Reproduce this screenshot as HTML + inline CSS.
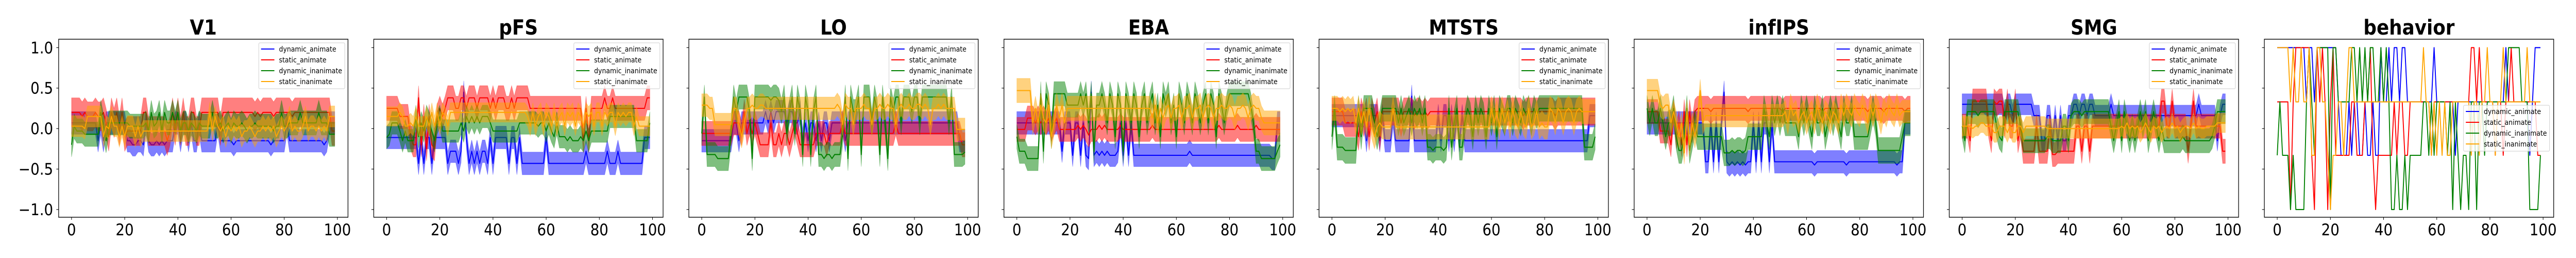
<!DOCTYPE html>
<html><head><meta charset="utf-8">
<style>
html,body{margin:0;padding:0;background:#fff;width:100vw;height:100vh;overflow:hidden;}
svg{display:block;position:fixed;left:0;top:0;width:100vw;height:100vh;}
text{font-family:"DejaVu Sans","Liberation Sans",sans-serif;}
</style></head>
<body>
<svg id="fig" viewBox="0 0 5600 500" preserveAspectRatio="none" xmlns="http://www.w3.org/2000/svg"></svg>
<script>
const panelTitles = ["V1","pFS","LO","EBA","MTSTS","infIPS","SMG","behavior"];
const seriesNames = ["dynamic_animate","static_animate","dynamic_inanimate","static_inanimate"];
const seriesColors = ["#0000ff","#ff0000","#008000","#ffa500"];
const xTicks = [0,20,40,60,80,100];
const yTicks = [1.0,0.5,0.0,-0.5,-1.0];
const yTickLabels = ["1.0","0.5","0.0","\u22120.5","\u22121.0"];

const V1_da=[.07,.07,.07,.07,.07,.07,.07,.07,.07,.07,-.15,.07,-.15,.07,.07,.07,.07,.07,.07,.07,.07,-.15,-.15,-.2,-.2,-.15,-.15,-.2,.07,-.15,-.2,-.2,-.15,-.2,-.15,-.2,-.15,-.15,-.15,.07,.07,-.15,.07,.07,-.15,.07,-.15,-.15,.07,-.15,-.15,-.15,-.15,-.15,-.15,.07,-.15,-.15,-.15,-.15,-.15,-.2,-.15,-.15,-.15,-.15,-.15,-.15,-.15,-.15,-.15,-.15,-.15,-.15,-.15,-.2,-.15,-.15,-.15,-.15,-.15,.07,-.15,-.15,-.15,-.15,-.15,-.15,-.15,-.15,-.15,-.15,-.15,-.15,-.15,-.2,-.15,.07,.07,.07];
const V1_sa=[.2,.2,.2,.2,.15,.2,.15,.15,.15,.2,.15,.15,.2,.07,-.1,.2,.07,.2,-.03,.2,-.1,-.03,-.03,-.03,-.03,-.03,-.03,.2,.2,-.03,-.03,-.03,-.03,-.03,-.03,-.03,-.15,-.03,.2,-.03,.2,-.03,.2,-.03,-.03,.2,.2,-.03,-.03,.2,.2,.2,.2,.2,.2,.2,-.03,.2,.2,.2,.2,.2,.2,.2,.2,.2,.2,.2,.2,.15,.2,.15,.2,.2,.2,.2,.15,.2,.2,.2,.2,.2,.2,.15,.2,.2,.2,.2,.2,.2,.2,.2,.2,.2,.2,.2,.2,.2,-.03,-.03];
const V1_di=[-.2,.03,-.03,-.03,-.03,-.07,-.07,-.07,-.07,-.07,-.07,.2,.03,-.15,.07,.07,.07,.07,.07,.07,.07,.07,.03,.03,.03,.03,.03,.03,.07,-.03,.2,.03,.07,.2,-.03,.2,.07,.07,.2,.07,.2,-.03,.07,.07,-.03,.07,.03,-.03,.07,.03,.03,.03,.03,.2,.03,.03,.07,-.03,.03,.07,-.03,.07,.03,.03,.07,.03,-.03,.03,.03,.07,.03,.03,.03,.03,.03,.03,-.03,.03,.03,.2,.03,.03,.07,.07,.07,.07,.2,.07,.07,.07,.07,.07,.07,.2,.07,.07,.07,-.07,-.07,-.07];
const V1_si=[.03,.03,.03,.03,.03,0,.15,.15,.15,.15,.15,.15,-.1,.03,0,.15,.03,.03,-.1,.03,-.1,.03,.03,.03,-.1,.03,-.1,-.03,-.03,-.03,-.03,-.03,-.03,-.03,-.03,-.03,-.03,-.03,-.03,-.03,-.03,-.03,-.03,-.03,-.03,-.03,-.03,-.03,-.03,-.03,-.03,-.03,.2,-.03,.15,.03,-.03,.03,-.1,.03,-.03,.03,-.03,.03,-.1,-.03,-.03,.03,-.03,-.1,-.03,-.03,.03,-.03,.03,-.03,.03,-.1,-.03,.03,-.03,.03,.15,-.03,.03,-.03,-.03,.03,.15,-.03,.03,.03,-.03,.03,-.03,.03,-.03,.15,.15,.15];

const pFS_da=[-.11,-.11,-.11,-.11,-.11,-.11,-.11,-.11,-.11,-.11,-.11,-.11,-.43,-.11,-.43,-.11,-.11,-.43,-.11,-.11,-.11,-.11,-.11,-.43,-.28,-.28,-.28,-.43,-.28,.45,-.11,-.43,-.28,-.43,-.28,-.43,-.28,-.28,-.43,-.11,-.43,-.11,-.11,-.11,-.11,-.11,-.43,-.11,-.11,-.43,-.11,-.43,-.43,-.43,-.43,-.43,-.43,-.43,-.43,-.43,-.11,-.43,-.43,-.43,-.43,-.43,-.43,-.43,-.43,-.43,-.43,-.43,-.43,-.43,-.43,-.28,-.43,-.43,-.43,-.43,-.43,-.43,-.43,-.28,-.43,-.43,-.43,-.28,-.43,-.43,-.43,-.43,-.43,-.43,-.43,-.43,-.43,-.11,-.11,-.11];
const pFS_sa=[.25,.25,.25,.25,.25,.15,.15,.15,.15,-.1,-.2,-.2,.38,-.2,.15,-.25,.15,-.2,-.25,.15,.25,.15,.25,.38,.38,.38,.25,.25,.38,.38,.25,.38,.38,.38,.25,.38,.38,.38,.38,.25,.38,.25,.38,.38,.38,.25,.25,.38,.25,.38,.38,.38,.38,.38,.25,.25,.25,.25,.25,.25,.25,.25,.25,.25,.25,.25,.25,.25,.25,.25,.25,.25,.25,.25,-.15,.25,-.15,.25,.25,.25,.25,.25,.38,.25,.25,.38,.25,.25,.25,.25,.25,.25,.25,.25,.25,.25,.25,.25,.38,.38];
const pFS_di=[-.11,-.07,.07,.07,.07,-.03,-.15,-.03,-.15,-.15,-.15,.15,-.1,.07,-.03,.15,.07,-.03,-.15,.07,.15,-.03,-.03,-.03,-.03,-.03,-.03,-.03,.07,-.03,.15,.07,.15,.07,.15,.07,.15,.15,.15,.07,-.03,-.03,-.03,-.03,-.03,-.03,-.03,-.03,-.03,-.03,.07,.07,.07,.07,.07,.07,.07,.03,.07,.07,-.03,.07,-.03,-.1,.07,-.1,-.1,-.1,-.15,-.1,-.15,-.15,-.15,-.1,-.15,-.03,-.15,-.03,-.03,-.03,-.03,-.03,-.03,-.03,.15,.15,.15,.15,.15,.15,.15,.15,.15,.15,-.15,-.15,-.15,-.15,-.15,.07];
const pFS_si=[.15,.15,.15,.15,.15,.2,.15,.03,.03,.07,.03,.15,.03,.03,.03,.15,.03,.2,.03,.2,.03,.2,.15,.03,.2,.2,.2,.2,.2,.2,.2,.2,.2,.2,.2,.2,.2,.2,.2,.2,.2,.2,.2,.2,.2,.2,.2,.2,.2,.2,.2,.2,.2,.15,.03,.2,.03,.15,.2,.03,.2,.15,.03,.2,.03,.15,.2,.03,.2,.15,.2,.03,.2,.15,.03,.2,.15,.2,.03,.2,.2,.03,.2,.15,.2,.2,.03,.2,.15,.2,.15,.2,.2,.03,.15,.03,.03,.03,.03,.03];

const LO_da=[-.15,-.15,-.15,-.15,-.15,-.15,-.15,-.15,-.15,-.15,-.15,-.15,.07,.07,-.15,.07,.07,.07,.07,.07,.07,.07,.07,.07,.21,.07,.21,.07,.21,.21,.21,.21,.07,.21,.21,.07,.07,.21,-.15,.07,-.15,.07,.07,-.15,.07,-.15,.07,.07,-.15,.07,.07,.07,.07,.07,-.15,.07,.07,.07,.07,.07,.07,.07,.07,.07,.07,.07,.07,.07,.07,.07,.07,.07,.07,.07,.07,.07,.07,.07,.07,.07,.07,.07,.07,.07,.07,.07,.07,.07,.07,.07,.07,.07,.07,.07,.07,.07,.07,-.15,-.15,-.15];
const LO_sa=[-.06,-.06,-.06,-.06,-.06,-.06,-.06,-.06,-.06,-.06,-.06,-.06,.07,.07,.07,-.06,.21,-.06,.07,-.06,.07,-.06,-.2,-.2,-.2,-.2,.07,-.2,-.2,-.06,-.2,-.06,-.06,-.2,-.06,.07,-.06,-.2,-.2,-.2,-.2,-.2,-.2,-.06,-.06,-.06,-.06,-.2,-.06,-.06,-.06,-.06,-.06,.07,-.06,-.06,-.06,-.06,-.06,-.06,-.06,-.06,-.06,-.06,-.06,-.06,-.06,-.06,-.06,-.06,-.06,-.06,-.06,.07,-.06,-.06,-.06,-.06,-.06,-.06,-.06,-.06,-.06,-.06,-.06,-.06,-.06,-.06,-.06,-.06,-.06,-.06,-.06,-.06,-.06,-.06,-.06,-.06,-.2,-.2];
const LO_di=[-.06,.39,-.32,-.32,-.32,-.32,-.37,-.37,-.37,-.37,-.37,-.06,.39,.21,.39,.39,.39,.39,.21,-.37,.39,.39,.39,.39,.39,.39,.35,.39,.39,.35,.21,.39,-.06,.21,.39,-.06,.39,.21,-.32,.39,.21,-.32,.21,.39,-.32,-.32,-.37,-.32,-.32,-.37,-.32,-.32,-.32,-.06,.39,-.37,.39,.21,.21,.39,-.32,.39,.39,.39,.07,.39,.21,-.32,.39,.07,-.37,.39,.21,.39,.39,.07,.39,.39,.39,.21,.39,.39,.07,.39,.39,.39,.39,.39,.39,.39,.39,.39,.39,.07,.39,-.32,-.32,-.32,-.32,-.29];
const LO_si=[.29,.29,.29,.25,.25,.05,.05,.05,.05,.05,.05,.05,.25,.25,.05,-.1,.07,.25,.25,.29,.25,.25,.29,.29,.25,.25,.25,.25,.25,.25,.25,.25,.25,.25,.25,.25,.25,.25,.25,.25,.25,.25,.25,.25,.25,.25,.25,.25,.25,.25,.25,.3,.25,.05,.3,.25,.25,.05,.25,.25,.25,.3,.25,.25,.05,.25,.25,.3,.25,.25,.3,.25,.25,.05,.25,.3,.25,.25,.3,.25,.25,.3,.3,.25,.3,.25,.05,.25,.25,.3,.25,.3,.25,.25,.25,.25,-.01,-.01,-.01,-.01];

const EBA_da=[.07,.07,.07,.07,.07,.07,.07,.07,.07,.07,.07,.07,.07,.07,.07,.07,.07,-.28,.07,.07,.07,-.33,.07,.07,-.33,.07,-.33,-.37,.45,-.33,-.28,-.33,-.28,-.33,-.28,-.33,-.33,-.33,-.28,.07,-.33,.07,-.33,.07,-.33,-.33,-.33,-.33,-.33,-.33,-.33,-.33,-.33,-.33,-.33,-.33,-.33,-.33,-.33,-.33,-.33,-.33,-.33,-.33,-.33,-.28,-.33,-.33,-.33,-.33,-.33,-.33,-.33,-.33,-.33,-.33,-.33,-.33,-.33,-.33,-.33,-.33,-.33,-.33,-.33,-.33,-.33,-.33,-.33,-.33,-.33,-.33,-.33,-.33,-.33,-.33,-.37,-.37,.07,.07];
const EBA_sa=[-.01,-.01,-.01,-.01,.13,.13,.13,.07,.13,.07,.13,.07,.13,-.01,.07,.13,-.01,-.01,-.01,-.01,-.01,-.01,-.01,.04,-.01,.04,-.01,-.08,-.01,-.01,-.01,.04,-.01,.04,-.01,-.01,-.01,-.01,-.01,.04,-.01,-.01,-.01,-.01,-.01,-.01,-.01,-.01,-.01,-.01,-.01,.04,-.01,-.01,-.01,-.01,-.01,-.01,-.01,-.01,-.01,-.01,-.01,-.01,-.01,-.01,-.01,-.01,-.01,-.01,-.01,-.01,-.01,-.01,-.01,-.01,.04,-.01,-.01,-.01,-.01,-.01,-.01,.04,-.01,-.01,-.01,-.01,-.01,-.01,.04,-.01,-.01,-.01,-.01,-.01,-.01,-.01,-.01,-.01];
const EBA_di=[-.1,-.28,-.28,-.28,-.37,-.37,-.37,-.37,-.37,.43,-.28,.43,.29,-.1,.43,.43,.43,.43,.43,.29,.29,.29,.29,.29,.43,.29,.43,.07,.43,-.28,.29,.29,.43,.29,.07,.43,.29,-.1,.43,.29,-.28,.43,.29,.07,.43,.29,-.1,.29,.43,.07,.29,.43,.07,.29,-.1,.43,.29,.43,.07,.29,-.1,.43,.29,.07,.43,.29,.07,.43,.29,.07,.29,.43,.07,.43,.29,-.1,.43,.29,.07,.29,.43,.43,.43,.43,.43,.43,.43,.43,.29,.07,-.28,-.28,-.37,-.37,-.37,-.37,-.37,-.37,-.28,-.2];
const EBA_si=[.47,.47,.47,.47,.47,.47,.07,.25,.07,.29,.13,.07,.29,-.1,.07,.29,.13,.29,.07,.25,.25,.25,.25,.25,.25,.25,.25,.25,.25,.25,.25,.25,.25,.25,.25,.25,.25,.25,.25,.25,.25,.25,.25,.25,.25,.25,.25,.25,.25,.25,.25,.13,.29,.07,.25,.13,.25,.29,.13,.25,.25,.29,.13,.25,.25,.29,.13,.25,.25,.29,.13,.25,.29,.25,.13,.25,.25,.29,.25,.25,.29,.25,.13,.25,.25,.29,.25,.13,.25,.29,.25,.25,.13,.07,.07,.07,.07,.07,.07,.07];

const MTSTS_da=[.16,.16,.16,.16,.16,.16,.16,.16,.16,.16,.16,.16,.16,-.15,.16,.16,.16,.16,-.15,.16,-.15,-.15,-.15,.16,-.15,-.15,-.15,-.15,-.15,-.15,.4,-.15,-.15,-.15,-.15,-.15,-.15,-.15,-.15,-.15,.16,-.15,.16,.16,-.15,.16,-.15,.16,-.15,.16,-.15,-.15,-.15,-.15,-.15,-.15,-.15,-.15,-.15,-.15,-.15,-.15,-.15,-.15,-.15,-.15,-.15,-.15,-.15,-.15,-.15,-.15,-.15,-.15,-.15,-.15,-.15,-.15,-.15,-.15,-.15,-.15,-.15,-.15,-.15,-.15,-.15,-.15,-.15,-.15,-.15,-.15,-.15,-.15,-.15,-.15,-.15,.16,.16,.16];
const MTSTS_sa=[.21,.21,.21,.21,.21,.07,.07,.07,.07,.07,-.1,.21,.07,.21,-.1,.21,.07,.21,-.1,.21,.21,.21,.21,.21,.21,.21,.07,.21,.21,.21,.21,.16,.21,.21,.16,.21,.16,.21,.21,.21,.21,.21,.21,.21,.21,.21,.21,.21,.21,.21,.21,.21,.21,.21,.21,.21,.21,.21,.21,.21,.21,.21,.21,.21,.21,.21,.21,.21,.21,.21,.21,.21,.16,.21,.21,.21,.21,.21,.21,.21,.21,.21,.21,.21,.16,.21,.21,.21,.21,.21,.21,.21,.21,.21,.21,.21,.21,.21,.21,.21];
const MTSTS_di=[-.1,.25,-.23,-.23,-.23,-.27,-.27,-.27,-.27,-.27,.25,-.1,.25,.25,.25,.25,.07,-.1,.07,.25,.25,.25,.25,.25,.25,.07,.25,.07,.16,.25,.07,.25,.16,.25,.07,.25,-.23,-.23,-.27,-.23,-.23,-.23,-.27,-.23,.25,-.23,.07,.25,-.23,-.23,.07,.25,.16,-.1,.25,.07,.25,.16,-.1,.25,.07,.25,-.1,.25,.16,.07,.25,.25,.07,.25,.16,.07,.25,.16,.25,.07,.25,.16,.25,.25,.25,.25,.25,.25,.25,.25,.25,.25,.25,.25,.25,.25,.25,.25,.25,-.23,-.23,-.23,-.23,-.1];
const MTSTS_si=[.25,.25,.25,.21,.25,.21,.25,.21,.25,.07,.25,.07,.21,.02,.25,.02,-.1,.02,.07,.02,.02,.02,.02,.25,.02,.02,.02,.02,.02,.02,.02,.02,.02,.02,.02,.02,.02,.02,.02,.02,.02,.02,.02,.02,.02,.02,.02,.02,.02,.02,.02,.02,.02,.02,.02,.02,.02,.02,.02,.02,.25,.07,.21,.02,.25,.07,.21,.02,.25,.07,.02,.21,.07,.02,.25,.02,.07,.21,.02,.07,.02,.02,.25,.21,.07,.25,.21,.07,.21,.25,.21,.07,.21,.25,.21,.21,.21,.21,.21,.21];

const infIPS_da=[.07,.07,.07,.07,.07,.07,.07,.07,.07,.07,.07,.07,.07,.07,.07,.07,.07,.07,.07,.07,.07,.07,-.41,-.41,.07,-.41,.07,-.41,.07,.45,-.41,-.45,-.41,-.45,-.41,-.45,-.41,-.45,-.41,-.41,.07,-.41,.07,-.41,.07,.07,-.41,.07,-.41,-.41,-.41,-.41,-.41,-.41,-.41,-.41,-.41,-.41,-.41,-.41,-.41,-.41,-.41,-.45,-.41,-.41,-.41,-.41,-.41,-.41,-.41,-.41,-.41,-.41,-.41,-.45,-.41,-.41,-.41,-.41,-.41,-.41,-.41,-.41,-.41,-.41,-.41,-.41,-.41,-.41,-.41,-.41,-.41,-.41,-.45,-.41,-.41,.07,.07,.07];
const infIPS_sa=[.21,.21,.21,.21,.21,-.03,-.03,-.03,-.03,-.2,.21,-.1,.07,-.2,.21,-.2,.21,-.03,.21,.25,.25,.25,.25,.25,.21,.25,.25,.25,.25,.25,.25,.25,.25,.25,.25,.25,.25,.25,.21,.25,.25,.25,.25,.25,.25,.25,.25,.25,.25,.25,.25,.21,.25,.25,.25,.25,.25,.25,.25,.25,.25,.25,.25,.25,.25,.25,.21,.25,.25,.25,.25,.25,.25,.25,.25,.25,.25,.25,.25,.25,.25,.25,.25,.21,.25,.25,.25,.25,.25,.21,.25,.25,.25,.25,.25,.25,.25,.21,.25,.25];
const infIPS_di=[.25,.07,.25,.07,.07,.25,.07,-.1,.07,.07,.25,-.1,-.27,-.27,-.1,.25,-.27,-.1,.07,-.1,-.1,-.1,-.1,-.1,-.1,-.1,-.1,-.1,-.1,-.3,-.3,-.3,-.27,-.3,-.27,-.27,-.3,-.27,-.1,-.1,-.1,-.1,-.1,-.1,.25,.07,-.1,.25,.07,.25,.07,.25,.07,.07,.07,.07,.07,-.1,.25,.07,.25,.07,-.1,.25,.07,.07,.25,-.1,.07,.25,.07,.25,.07,-.1,.25,.07,.07,.25,-.1,-.1,-.1,-.1,-.1,-.1,.07,.25,.07,-.27,-.27,-.27,-.27,-.27,-.27,-.27,-.27,-.27,-.1,.07,.07,.07];
const infIPS_si=[.47,.47,.47,.47,.47,.29,.25,.29,.29,.07,.21,.07,-.1,.07,-.3,.21,-.2,.07,-.1,.07,.47,.07,.16,.16,.16,.16,.16,.16,.16,.16,.16,.16,.16,.16,.16,.16,.16,.16,.16,.16,.16,.16,.16,.16,.16,.16,.16,.16,.16,.16,.16,.16,.21,.07,.29,.16,.21,.07,.16,.21,.07,.16,.21,.07,.29,.16,.07,.21,.16,.07,.21,.16,.07,.29,.16,.29,.21,.16,.29,.21,.16,.29,.21,.07,.29,.16,.29,.21,.07,.25,.16,.29,.21,.16,.29,.16,.21,.21,.21,.21];

const SMG_da=[.3,.3,.3,.3,.3,.3,.3,.3,.3,.3,.3,.3,.3,.3,.3,.3,.16,.3,.3,.16,.3,.3,.3,.3,.3,.3,.3,.16,.16,.16,-.15,-.15,.16,.16,-.15,.16,-.15,.16,-.15,-.15,.16,.16,.3,.3,.16,.3,.3,.16,.3,.3,.16,.16,.16,.16,.16,.16,.3,.16,.16,.16,.16,.16,.16,.16,.16,.16,.16,.16,.16,.16,.16,.16,.16,.16,.16,.16,.16,.16,.16,.16,.16,.16,.16,.16,.16,.16,.16,.16,.16,.3,.16,.16,.16,.16,.16,.16,-.15,.16,.3,.3];
const SMG_sa=[.03,.03,.03,-.15,.34,.34,.34,.34,.34,.34,.03,-.15,.34,.3,.34,.34,.03,.34,.03,.03,.34,-.15,.03,-.28,-.28,-.28,-.28,-.28,.03,-.28,-.28,-.28,-.28,.03,-.32,-.32,-.28,-.28,-.28,-.28,-.28,-.28,-.28,.03,.03,-.28,.03,.03,-.28,.03,.03,.03,.03,.03,.03,.03,.03,.03,.03,.03,.03,.03,.03,.03,.03,.03,.03,.03,.03,.03,.03,.03,.03,.03,.03,.34,.34,.03,.03,.34,.03,.03,.03,.03,.03,-.28,.03,.34,.03,.03,.03,.03,.03,.03,.03,.03,.03,.03,-.28,-.28];
const SMG_di=[.03,-.15,.21,.21,.21,.21,.16,.21,.21,.21,.21,.21,.21,.03,-.1,-.15,.21,.21,.21,.21,.21,.21,.03,-.15,-.15,-.15,-.15,-.15,-.15,-.15,-.15,-.15,-.1,-.1,-.15,-.15,-.15,-.15,.03,.03,-.15,.16,.21,.21,.21,.16,.21,.21,.21,.21,.21,.21,.21,.21,.21,.21,.03,-.15,.03,.21,-.15,.21,.03,-.15,.03,-.15,.03,.21,.03,.21,-.15,.03,.21,.03,-.15,.03,-.15,-.15,-.15,-.15,-.15,-.15,-.15,-.1,-.15,-.15,-.15,-.15,-.15,-.15,-.15,-.15,-.15,-.15,-.1,.03,.21,.21,.21,.21];
const SMG_si=[.03,.03,.03,.03,0,.03,.03,.07,.07,.03,.03,.03,-.05,-.05,.03,.03,.03,-.05,.03,-.05,-.05,.03,.03,-.05,.03,.03,.03,.03,.03,.03,.03,.03,0,0,0,0,0,0,0,0,0,0,0,0,0,0,0,0,0,0,0,0,0,0,0,0,0,0,0,0,.03,0,.07,0,.03,0,.03,-.05,0,.07,0,-.05,.03,0,.03,-.05,0,.03,0,.07,0,.03,-.05,0,.03,.03,0,.07,0,.03,0,0,.03,.03,.03,.03,.07,.07,.07,.07];

const beh_da=[1,1,1,1,1,1,1,1,1,1,1,.33,1,1,.33,1,1,1,1,1,1,1,1,.33,-.33,-.33,-.33,.33,-.33,.33,.33,-.33,-.33,.33,-.33,-.33,.33,-.33,-.33,1,.33,.33,1,.33,1,1,.33,1,1,.33,.33,.33,.33,.33,.33,.33,.33,.33,.33,1,.33,.33,.33,.33,.33,.33,.33,-.33,.33,.33,.33,.33,.33,.33,.33,.33,.33,.33,.33,.33,.33,.33,.33,.33,.33,.33,1,.33,.33,.33,.33,.33,.33,.33,.33,-.33,.33,1,1,1];
const beh_sa=[.33,.33,.33,.33,.33,-1,.33,1,1,1,1,1,1,-.33,-1,1,.33,1,.33,-1,.33,1,-.33,-.33,-.33,-.33,-.33,-.33,.33,.33,-.33,-.33,-.33,.33,.33,1,-.33,-1,-.33,-.33,-.33,-.33,-.33,-.33,.33,-.33,.33,.33,-.33,-.33,.33,.33,.33,.33,.33,.33,.33,.33,-.33,.33,.33,.33,.33,.33,.33,.33,.33,.33,.33,.33,.33,.33,.33,1,1,.33,1,.33,.33,.33,.33,.33,-.33,.33,.33,-.33,.33,.33,1,.33,.33,.33,.33,.33,.33,.33,.33,.33,-.33,-.33];
const beh_di=[-.33,.33,-.33,-.33,-.33,-1,-.33,-1,-1,-1,-1,.33,1,.33,-.33,1,1,1,1,1,-1,1,1,.33,.33,.33,.33,.33,1,1,.33,1,.33,1,.33,1,1,.33,.33,1,.33,1,.33,-1,-1,-.33,-1,-1,-.33,-1,-.33,-.33,-.33,-.33,-.33,.33,.33,-.33,.33,-.33,.33,.33,.33,.33,-.33,.33,-1,.33,-.33,-1,-.33,-.33,-1,.33,.33,-1,.33,.33,-.33,.33,.33,.33,.33,.33,.33,.33,.33,1,1,1,1,1,.33,.33,.33,-1,-1,-1,-1,-.33];
const beh_si=[1,1,1,1,1,.33,1,.33,.33,1,.33,.33,1,-.33,-.33,1,1,.33,.33,-.33,-1,-.33,-.33,.33,.33,-.33,.33,1,1,.33,.33,.33,.33,.33,.33,.33,.33,.33,.33,.33,.33,.33,.33,.33,.33,.33,.33,.33,.33,.33,.33,.33,.33,.33,.33,1,.33,.33,-.33,.33,-.33,.33,-.33,.33,-.33,-.33,.33,.33,.33,.33,.33,.33,.33,-.33,.33,.33,-.33,.33,.33,1,.33,.33,-.33,.33,.33,1,.33,.33,.33,.33,.33,.33,.33,.33,1,.33,.33,.33,.33,.33];

const panelSeries = [
  [V1_da,V1_sa,V1_di,V1_si],
  [pFS_da,pFS_sa,pFS_di,pFS_si],
  [LO_da,LO_sa,LO_di,LO_si],
  [EBA_da,EBA_sa,EBA_di,EBA_si],
  [MTSTS_da,MTSTS_sa,MTSTS_di,MTSTS_si],
  [infIPS_da,infIPS_sa,infIPS_di,infIPS_si],
  [SMG_da,SMG_sa,SMG_di,SMG_si],
  [beh_da,beh_sa,beh_di,beh_si]
];
const panelErrors = [
  [.14,.18,.15,.13],[.14,.15,.14,.12],[.14,.15,.15,.14],[.14,.15,.15,.15],
  [.14,.17,.16,.15],[.14,.15,.16,.14],[.13,.15,.15,.12],[0,0,0,0]
];

const NS="http://www.w3.org/2000/svg";
const svg=document.getElementById('fig');
function mk(tag,attrs,parent){const e=document.createElementNS(NS,tag);for(const k in attrs)e.setAttribute(k,attrs[k]);(parent||svg).appendChild(e);return e;}

const AX_L0=127.5, AX_STEP=685, AX_W=629, AX_T=76, AX_B=421;
function xScale(p,v){return AX_L0+AX_STEP*p+28+v*5.78;}
function yScale(v){return 249.2-v*156.9;}

panelTitles.forEach((title,p)=>{
  const L=AX_L0+AX_STEP*p;
  const g=mk('g',{});
  
  
  const clipId='clip'+p;
  const cp=mk('clipPath',{id:clipId},g);
  mk('rect',{x:L,y:AX_T,width:AX_W,height:AX_B-AX_T},cp);
  const plot=mk('g',{'clip-path':'url(#'+clipId+')'},g);
  const series=panelSeries[p];
  series.forEach((vals,s)=>{
    const err=panelErrors[p][s];
    if(err>0){
      let up=[],dn=[];
      vals.forEach((v,i)=>{up.push(xScale(p,i).toFixed(1)+','+yScale(v+err).toFixed(1));});
      for(let i=vals.length-1;i>=0;i--){dn.push(xScale(p,i).toFixed(1)+','+yScale(vals[i]-err).toFixed(1));}
      const band=mk('polygon',{points:up.concat(dn).join(' '),fill:seriesColors[s],'fill-opacity':0.5,stroke:seriesColors[s],'stroke-opacity':0.3,'stroke-width':1},plot);
      
      
    }
    const pts=vals.map((v,i)=>xScale(p,i).toFixed(1)+','+yScale(v).toFixed(1)).join(' ');
    const line=mk('polyline',{points:pts,fill:'none',stroke:seriesColors[s],'stroke-width':2.1,'stroke-linejoin':'round'},plot);
    
    
  });
  const frame=mk('rect',{x:L,y:AX_T,width:AX_W,height:AX_B-AX_T,fill:'none',stroke:'#000','stroke-width':1.4},g);
  
  
  const t=mk('text',{x:L+AX_W/2,y:67,'text-anchor':'middle','font-size':40,'font-weight':'bold'},g);
  t.textContent=title;
  
  
  xTicks.forEach(v=>{
    const x=xScale(p,v);
    mk('line',{x1:x,x2:x,y1:AX_B,y2:AX_B+5,stroke:'#000','stroke-width':1.1},g);
    const tl=mk('text',{x:x,y:456,'text-anchor':'middle','font-size':31},g);
    tl.textContent=String(v);
    
    
  });
  yTicks.forEach((v,i)=>{
    const y=yScale(v);
    mk('line',{x1:L-5,x2:L,y1:y,y2:y,stroke:'#000','stroke-width':1.1},g);
    if(p===0){
      const yl=mk('text',{x:L-12,y:y+11,'text-anchor':'end','font-size':31},g);
      yl.textContent=yTickLabels[i];
      
      
    }
  });
  const isBeh=(p===7);
  const lx=L+(isBeh?433:435), ly=isBeh?204:83;
  const lg=mk('g',{},g);
  
  
  mk('rect',{x:lx,y:ly,width:187,height:89,rx:2.5,fill:'#fff','fill-opacity':0.8,stroke:'#cccccc','stroke-width':1},lg);
  seriesNames.forEach((n,s)=>{
    const ry=ly+12+s*21;
    mk('line',{x1:lx+5,x2:lx+34,y1:ry,y2:ry,stroke:seriesColors[s],'stroke-width':2},lg);
    const lt=mk('text',{x:lx+44,y:ry+5,'font-size':14},lg);
    lt.textContent=n;
    
    
  });
});
</script>
</body></html>
